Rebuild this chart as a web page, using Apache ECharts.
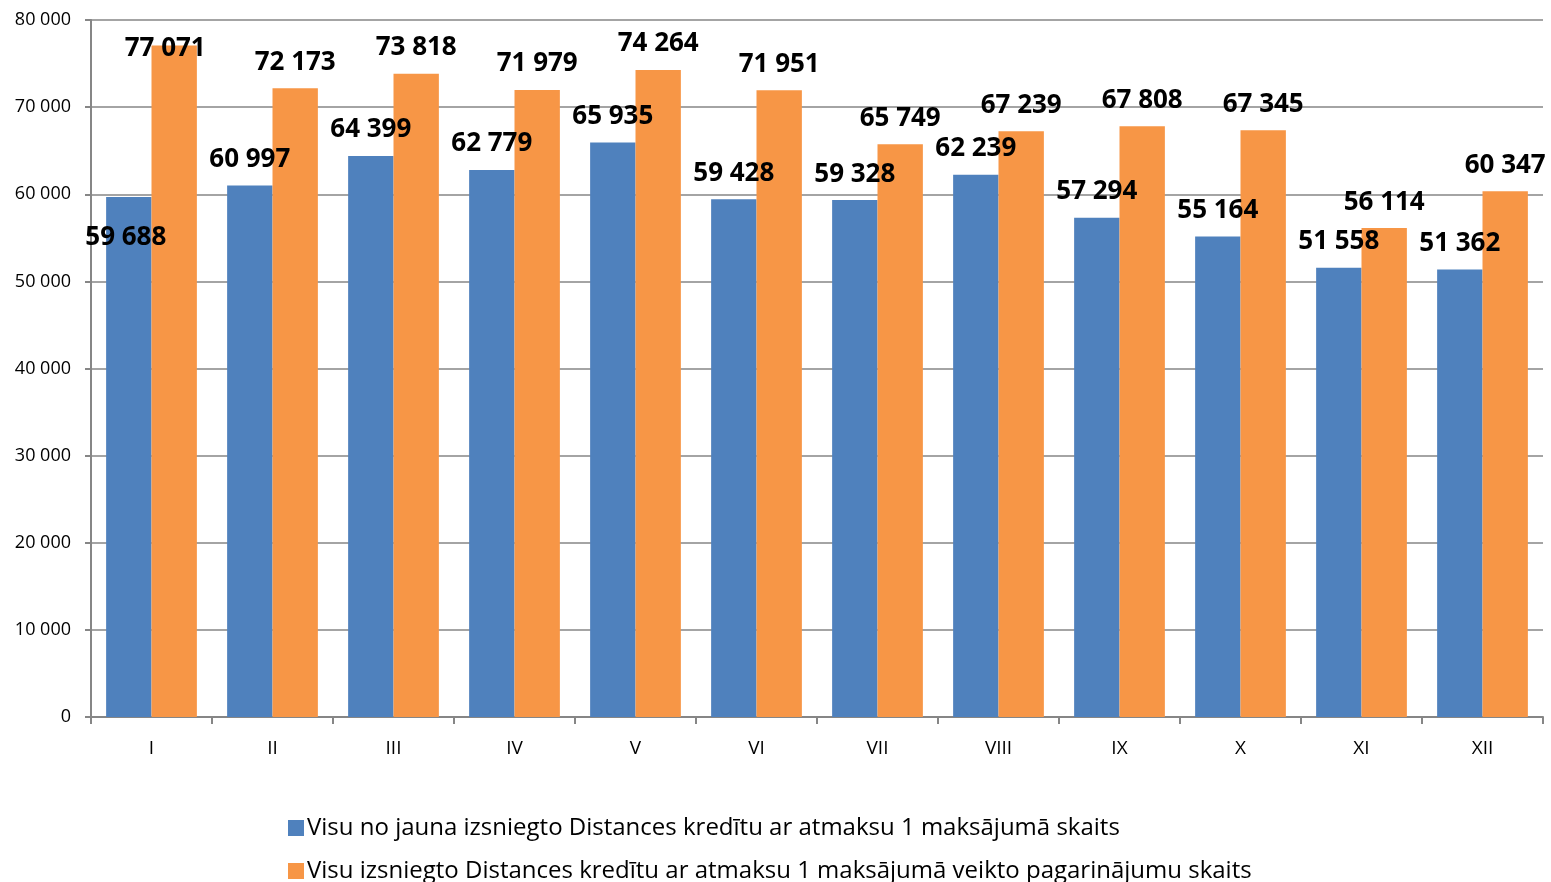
<!DOCTYPE html>
<html>
<head>
<meta charset="utf-8">
<script src="https://cdn.jsdelivr.net/npm/echarts@6/dist/echarts.min.js"></script>
<style>html,body{margin:0;padding:0;background:#fff}#c{width:1551px;height:882px}</style>
</head>
<body>
<div id="c"></div>
<script>
const categories = ['I','II','III','IV','V','VI','VII','VIII','IX','X','XI','XII'];
const newLoans = [59688, 60997, 64399, 62779, 65935, 59428, 59328, 62239, 57294, 55164, 51558, 51362];
const extensions = [77071, 72173, 73818, 71979, 74264, 71951, 65749, 67239, 67808, 67345, 56114, 60347];
const seriesNames = [
  'Visu no jauna izsniegto Distances kredītu ar atmaksu 1 maksājumā skaits',
  'Visu izsniegto Distances kredītu ar atmaksu 1 maksājumā veikto pagarinājumu skaits'
];

const fmt = v => String(v).replace(/\B(?=(\d{3})+(?!\d))/g, ' ');
const FONT = 'Open Sans';

const labelBase = {
  show: true, position: 'top', distance: 13,
  fontFamily: FONT, fontWeight: 'bold', fontSize: 26, color: '#000',
  formatter: p => fmt(p.value)
};

const blueData = newLoans.map((v, i) => i === 0
  ? { value: v, label: { position: 'insideTop', distance: 28, offset: [-3, 0] } }
  : v);
const orangeData = extensions.map((v, i) => i === 0
  ? { value: v, label: { position: 'top', offset: [-9, 29] } }
  : v);

const legendBase = {
  orient: 'horizontal', left: 283,
  itemWidth: 16, itemHeight: 16, icon: 'rect', itemGap: 6,
  textStyle: { fontFamily: FONT, fontSize: 24, color: '#000', padding: [0, 0, 0, -2] }
};

const chart = echarts.init(document.getElementById('c'), null, { renderer: 'canvas' });
chart.setOption({
  animation: false,
  backgroundColor: '#fff',
  grid: { left: 91, right: 8, top: 20, bottom: 165, containLabel: false },
  legend: [
    Object.assign({}, legendBase, { top: 811, data: [seriesNames[0]] }),
    Object.assign({}, legendBase, { top: 854, data: [seriesNames[1]] })
  ],
  xAxis: {
    type: 'category', data: categories, boundaryGap: true,
    axisLine: { lineStyle: { color: '#868686', width: 2 } },
    axisTick: { show: true, length: 7, lineStyle: { color: '#868686', width: 2 } },
    axisLabel: { fontFamily: FONT, fontSize: 19, color: '#000', margin: 22 }
  },
  yAxis: {
    type: 'value', min: 0, max: 80000, interval: 10000,
    axisLine: { show: true, lineStyle: { color: '#868686', width: 2 } },
    axisTick: { show: true, length: 6, lineStyle: { color: '#868686', width: 2 } },
    splitLine: { lineStyle: { color: '#868686', width: 1.5 } },
    axisLabel: { fontFamily: FONT, fontSize: 18, color: '#000', margin: 20, formatter: v => fmt(v) }
  },
  series: [
    { name: seriesNames[0], type: 'bar', data: blueData, barGap: '0%', barCategoryGap: '25%',
      itemStyle: { color: '#4F81BD' }, label: labelBase },
    { name: seriesNames[1], type: 'bar', data: orangeData, barGap: '0%', barCategoryGap: '25%',
      itemStyle: { color: '#F79646' }, label: labelBase }
  ]
});
</script>
</body>
</html>
